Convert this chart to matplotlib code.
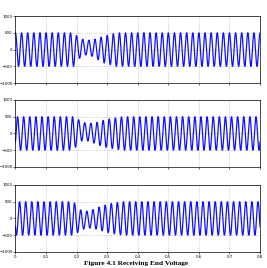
import numpy as np
import matplotlib
matplotlib.use("Agg")
import matplotlib.pyplot as plt

freq_hz = 50
t_end = 0.8
# per-cycle peak amplitudes (40 cycles)
amp_a = [500]*10 + [300, 220, 240, 320, 400, 450] + [500]*24
amp_b = [500]*10 + [310, 260, 280, 340, 400, 440, 470] + [500]*23
amp_c = [500]*10 + [320, 250, 270, 330, 390, 440, 470] + [500]*23
# per-cycle dc offset during the disturbance
off_a = [0]*10 + [40, 60, 40, 20, 0] + [0]*25
off_b = [0]*10 + [80, 50, 20, 0] + [0]*26
off_c = [0]*10 + [-60, -40, -20, 0] + [0]*26
phases_deg = [90, -30, 210]
x_ticks = [0, 0.1, 0.2, 0.3, 0.4, 0.5, 0.6, 0.7, 0.8]
x_ticklabels = ["0", "0.1", "0.2", "0.3", "0.4", "0.5", "0.6", "0.7", "0.8"]
y_ticks = [-1000, -500, 0, 500, 1000]
caption = "Figure 4.1 Receiving End Voltage"

fig = plt.figure(figsize=(2.67, 2.68), dpi=100)
positions = [(0.058, 0.690, 0.916, 0.250),
             (0.058, 0.377, 0.916, 0.250),
             (0.058, 0.060, 0.916, 0.250)]
t = np.linspace(0, t_end, 4001)
centers = lambda n: (np.arange(n) + 0.5) / freq_hz
for i, (pos, amps, offs, ph) in enumerate(zip(positions, [amp_a, amp_b, amp_c],
                                              [off_a, off_b, off_c], phases_deg)):
    ax = fig.add_axes(pos)
    env = np.interp(t, centers(len(amps)), amps)
    dc = np.interp(t, centers(len(offs)), offs)
    y = dc + env * np.sin(2*np.pi*freq_hz*t + np.deg2rad(ph))
    ax.plot(t, y, color="#1010ff", lw=0.9)
    ax.set_xlim(0, t_end)
    ax.set_ylim(-1000, 1000)
    ax.set_xticks(x_ticks)
    ax.set_yticks(y_ticks)
    if i == 2:
        ax.set_xticklabels(x_ticklabels)
    else:
        ax.set_xticklabels([])
    ax.grid(True, color="#aaaaaa", linestyle=":", linewidth=0.5)
    ax.tick_params(labelsize=2.9, length=1.5, width=0.4, pad=0.6)
    for s in ax.spines.values():
        s.set_linewidth(0.5)

fig.text(0.51, 0.008, caption, ha="center", va="bottom",
         family="Liberation Serif", weight="bold", fontsize=5.3)
fig.savefig("out.png", dpi=100)
